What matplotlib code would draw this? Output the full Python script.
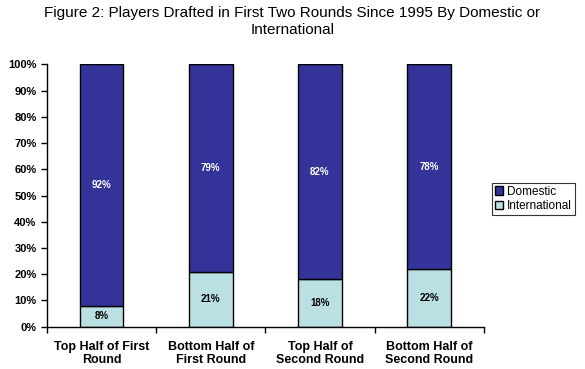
import matplotlib
matplotlib.use("Agg")
import matplotlib.pyplot as plt
import numpy as np

plt.rcParams["font.family"] = ["Liberation Sans", "DejaVu Sans"]

categories = [
    "Top Half of First\nRound",
    "Bottom Half of\nFirst Round",
    "Top Half of\nSecond Round",
    "Bottom Half of\nSecond Round",
]
international = [8, 21, 18, 22]
domestic = [92, 79, 82, 78]

DOM_COLOR = "#333399"
INT_COLOR = "#BBE0E3"

fig = plt.figure(figsize=(5.85, 3.69), dpi=100)
ax = fig.add_axes([0.0803, 0.1146, 0.7467, 0.7111])

x = np.arange(len(categories))
width = 0.4
ax.bar(x, international, width, color=INT_COLOR, edgecolor="black",
       linewidth=1, label="International")
ax.bar(x, domestic, width, bottom=international, color=DOM_COLOR,
       edgecolor="black", linewidth=1, label="Domestic")

for xi, iv, dv in zip(x, international, domestic):
    ax.text(xi, iv / 2, f"{iv}%", ha="center", va="center",
            fontsize=7, fontweight="bold", color="black")
    ax.text(xi, iv + dv / 2, f"{dv}%", ha="center", va="center",
            fontsize=7, fontweight="bold", color="white")

ax.set_xlim(-0.5, len(categories) - 0.5)
ax.set_ylim(0, 100)
ax.set_yticks(np.arange(0, 101, 10))
ax.set_yticklabels([f"{v}%" for v in range(0, 101, 10)],
                   fontsize=8, fontweight="bold")

# boundaries get the tick marks, labels sit at bar centres
ax.set_xticks(np.arange(-0.5, len(categories), 1.0))
ax.set_xticklabels([])
ax.set_xticks(x, minor=True)
ax.set_xticklabels(categories, minor=True, fontsize=9, fontweight="bold")
ax.tick_params(axis="x", which="minor", length=0, pad=10)
ax.tick_params(axis="both", which="major", direction="out", length=4,
               width=1, color="black")

for side in ["top", "right"]:
    ax.spines[side].set_visible(False)
for side in ["left", "bottom"]:
    ax.spines[side].set_linewidth(1)
    ax.spines[side].set_color("black")

handles, labels = ax.get_legend_handles_labels()
leg = fig.legend(handles[::-1], labels[::-1], loc="upper left",
                 bbox_to_anchor=(0.841, 0.505), fontsize=8.5, frameon=True,
                 fancybox=False, edgecolor="black", handlelength=0.7,
                 handleheight=0.7, handletextpad=0.3, borderpad=0.25,
                 labelspacing=0.2, borderaxespad=0)
leg.get_frame().set_linewidth(0.8)

fig.text(0.5, 0.985,
         "Figure 2: Players Drafted in First Two Rounds Since 1995 By Domestic or\nInternational",
         ha="center", va="top", fontsize=11, linespacing=1.3)

fig.savefig("out.png", dpi=100)
